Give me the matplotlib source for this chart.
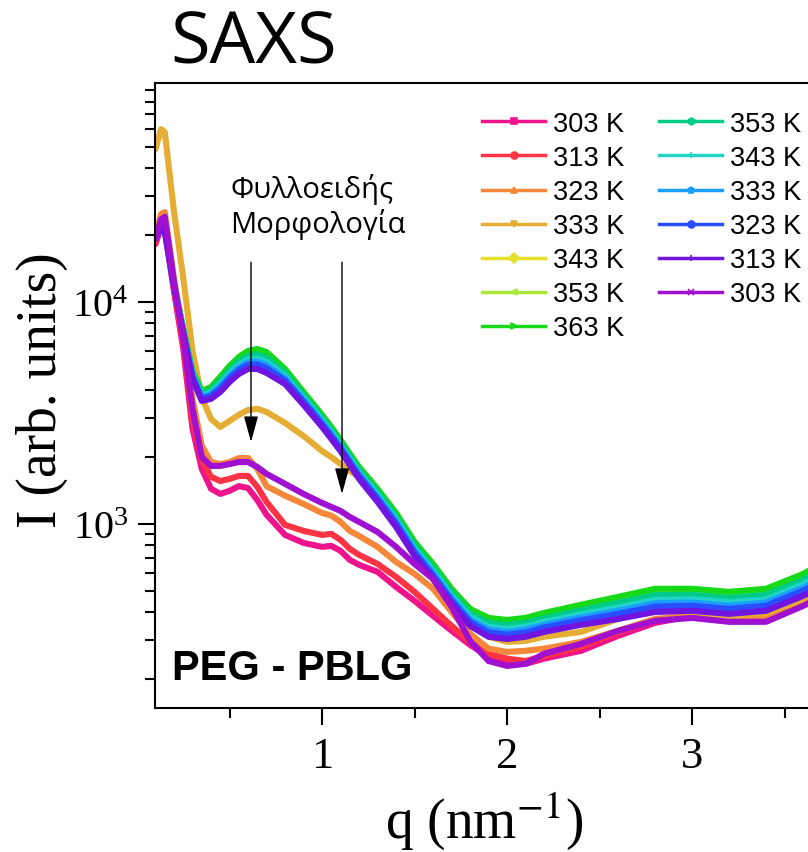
import matplotlib.pyplot as plt
from matplotlib.lines import Line2D

plt.rcParams['font.family'] = 'Liberation Serif'
plt.rcParams['mathtext.fontset'] = 'stix'

# scattering vector (nm^-1)
q = [0.10, 0.13, 0.15, 0.20, 0.25, 0.30, 0.35, 0.40, 0.45, 0.50,
     0.55, 0.60, 0.65, 0.70, 0.80, 0.90, 1.00, 1.05, 1.10, 1.15,
     1.20, 1.30, 1.40, 1.50, 1.60, 1.70, 1.80, 1.90, 2.00, 2.10,
     2.20, 2.40, 2.60, 2.80, 3.00, 3.20, 3.40, 3.60, 3.70]

# heating run
heat_303 = [18250, 21800, 20900, 11200, 6140, 2680, 1770, 1440, 1365, 1410,
            1480, 1450, 1280, 1100, 892, 821, 788, 796, 756, 688,
            654, 608, 520, 450, 385, 330, 285, 252, 237, 234,
            247, 268, 313, 358, 385, 377, 381, 445, 484]
heat_313 = [18600, 22200, 21300, 11400, 6470, 2970, 1960, 1630, 1560, 1595,
            1645, 1645, 1470, 1256, 990, 930, 892, 902, 847, 772,
            725, 660, 577, 494, 414, 347, 294, 260, 247, 241,
            254, 279, 326, 369, 389, 377, 381, 445, 484]
heat_323 = [19600, 24900, 25400, 12700, 7180, 3660, 2250, 1900, 1860, 1900,
            1980, 1980, 1770, 1480, 1340, 1230, 1120, 1090, 1020, 930,
            883, 788, 674, 595, 510, 401, 320, 274, 265, 268,
            274, 294, 330, 373, 385, 377, 381, 450, 489]
heat_333 = [48900, 60100, 58300, 25400, 12800, 6020, 3730, 2970, 2735, 2910,
            3100, 3260, 3300, 3195, 2850, 2490, 2130, 2000, 1863, 1733,
            1628, 1296, 1032, 788, 614, 459, 354, 310, 294, 297,
            310, 326, 373, 410, 401, 385, 397, 459, 510]
heat_343 = [19840, 22070, 21480, 11920, 7420, 4750, 3825, 3958, 4340, 4845,
            5295, 5616, 5680, 5484, 4712, 3743, 2961, 2615, 2292, 1985,
            1727, 1368, 1063, 787, 623, 481, 388, 350, 343, 350,
            369, 400, 430, 466, 468, 453, 468, 546, 603]
heat_353 = [20100, 22150, 21700, 12010, 7520, 4850, 3930, 4090, 4520, 5060,
            5540, 5900, 6000, 5810, 4910, 3880, 3060, 2700, 2360, 2045,
            1783, 1417, 1103, 817, 649, 501, 406, 369, 361, 369,
            388, 422, 457, 497, 497, 481, 497, 580, 643]
heat_363 = [20200, 22200, 21800, 12050, 7560, 4890, 3970, 4140, 4600, 5150,
            5650, 6020, 6140, 5950, 4990, 3930, 3100, 2735, 2390, 2070,
            1806, 1438, 1121, 830, 660, 510, 414, 377, 369, 377,
            397, 432, 469, 510, 510, 494, 510, 595, 660]

# cooling run
cool_353 = [19940, 22090, 21560, 11950, 7460, 4785, 3866, 4008, 4410, 4928,
            5391, 5722, 5803, 5608, 4789, 3793, 3001, 2648, 2318, 2008,
            1748, 1388, 1079, 798, 633, 489, 395, 358, 350, 358,
            376, 408, 441, 478, 479, 464, 479, 559, 619]
cool_343 = [19750, 22020, 21390, 11880, 7380, 4705, 3785, 3910, 4270, 4765,
            5200, 5510, 5560, 5365, 4637, 3694, 2925, 2583, 2265, 1962,
            1705, 1350, 1047, 775, 613, 474, 381, 344, 336, 344,
            362, 391, 420, 455, 457, 443, 457, 534, 589]
cool_333 = [19590, 21960, 21250, 11840, 7330, 4650, 3728, 3837, 4174, 4644,
            5067, 5356, 5395, 5197, 4532, 3622, 2870, 2535, 2227, 1927,
            1674, 1323, 1025, 758, 599, 463, 371, 334, 326, 334,
            351, 379, 406, 439, 442, 428, 442, 516, 568]
cool_323 = [19440, 21890, 21120, 11780, 7270, 4592, 3669, 3770, 4078, 4533,
            4939, 5212, 5234, 5034, 4428, 3550, 2818, 2489, 2189, 1896,
            1643, 1297, 1003, 742, 586, 452, 362, 324, 317, 324,
            341, 368, 393, 424, 428, 414, 428, 500, 549]
cool_313 = [19200, 21800, 20900, 11700, 7180, 4500, 3580, 3660, 3930, 4360,
            4740, 4990, 4990, 4790, 4270, 3440, 2735, 2415, 2130, 1844,
            1595, 1256, 969, 717, 565, 436, 347, 310, 303, 310,
            326, 351, 373, 401, 406, 393, 406, 474, 520]
cool_303 = [19200, 23600, 24200, 12300, 6810, 3300, 2000, 1825, 1825, 1860,
            1900, 1900, 1805, 1680, 1515, 1365, 1243, 1193, 1144, 1075,
            1021, 920, 788, 660, 565, 423, 297, 241, 229, 234,
            260, 288, 330, 366, 377, 362, 362, 427, 469]

labels = ['303 K', '313 K', '323 K', '333 K', '343 K', '353 K', '363 K',
          '353 K', '343 K', '333 K', '323 K', '313 K', '303 K']
colors = ['#f0148c', '#ff3344', '#f5873a', '#e6ad35', '#e5e02a', '#a8e83a', '#17d917',
          '#00cc88', '#22d3c8', '#1a9fff', '#2a4dff', '#7014e0', '#a010d0']
markers = ['s', 'o', '^', 'v', 'D', '<', '>', 'h', '+', 'p', 'o', '|', 'x']

curves = [heat_303, heat_313, heat_323, heat_333, heat_343, heat_353, heat_363,
          cool_353, cool_343, cool_333, cool_323, cool_313, cool_303]

fig = plt.figure(figsize=(8.08, 8.53), dpi=100)
ax = fig.add_axes([0.1918, 0.1688, 0.8937, 0.7327])

for I, c in zip(curves, colors):
    ax.plot(q, I, color=c, lw=4.4, solid_joinstyle='round', solid_capstyle='round')

ax.set_yscale('log')
ax.set_xlim(0.097, 4.0)
ax.set_ylim(148, 9.7e4)

ax.set_xticks([1, 2, 3])
ax.set_xticks([0.5, 1.5, 2.5, 3.5], minor=True)
ax.tick_params(axis='both', which='major', direction='out', length=12, width=1.5)
ax.tick_params(axis='both', which='minor', direction='out', length=7, width=1.5)
ax.tick_params(top=False, right=False, which='both')
ax.tick_params(axis='x', labelsize=32, pad=8)
ax.tick_params(axis='y', labelsize=29, pad=7)
for sp in ax.spines.values():
    sp.set_linewidth(1.5)

# lamellar morphology markers
arrow = dict(arrowstyle='-|>,head_length=0.8,head_width=0.22', color='black',
             lw=1.0, mutation_scale=20, shrinkA=0, shrinkB=0)
ax.annotate('', xy=(0.616, 2340), xytext=(0.616, 15100), arrowprops=arrow)
ax.annotate('', xy=(1.108, 1365), xytext=(1.108, 15100), arrowprops=arrow)
ax.text(0.505, 2.07e4, 'Φυλλοειδής\nΜορφολογία', fontsize=21, family='Open Sans',
        ha='left', va='baseline', linespacing=1.15)

ax.text(0.19, 200, 'PEG - PBLG', fontsize=30, fontweight='bold',
        family='Liberation Sans', ha='left', va='baseline')

handles = [Line2D([], [], color=c, lw=2.5, marker=m, ms=5, mew=1.2)
           for c, m in zip(colors, markers)]
fig.legend(handles, labels, loc='upper left', bbox_to_anchor=(0.597, 0.869),
           ncol=2, frameon=False, prop={'family': 'Liberation Sans', 'size': 19.5},
           handlelength=2.3, handletextpad=0.3, labelspacing=0.3,
           columnspacing=1.3, borderpad=0, borderaxespad=0)

fig.text(170 / 808, 1 - 63 / 853, 'SAXS', fontsize=52, family='Open Sans',
         ha='left', va='baseline')
fig.text(42 / 808, 1 - 390 / 853, 'I (arb. units)', fontsize=40,
         rotation=90, ha='center', va='center')
fig.text(484 / 808, 1 - 838 / 853, 'q (nm$^{-1}$)', fontsize=40,
         ha='center', va='baseline')

fig.savefig('out.png', dpi=100)
